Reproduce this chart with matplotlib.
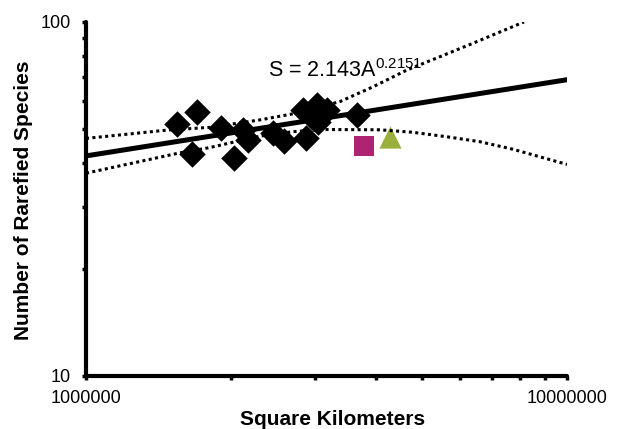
import numpy as np
import matplotlib
matplotlib.use("Agg")
import matplotlib.pyplot as plt

plt.rcParams['font.family'] = ['Liberation Sans', 'DejaVu Sans']
plt.rcParams['mathtext.fontset'] = 'custom'
plt.rcParams['mathtext.rm'] = 'Liberation Sans'
plt.rcParams['mathtext.default'] = 'regular'

# regions (area in km^2) vs rarefied species counts
area = [1.548e6, 1.699e6, 1.659e6, 2.03e6, 1.909e6, 2.124e6, 2.175e6, 2.444e6,
        2.581e6, 2.868e6, 2.83e6, 3.026e6, 3.166e6, 3.041e6, 2.95e6, 3.654e6]
species = [51.4, 55.8, 42.4, 41.4, 50.1, 49.6, 46.4, 48.7,
           46.1, 46.9, 56.4, 58.3, 56.4, 52.3, 54.0, 54.6]

square_area = [3.784e6]
square_species = [44.7]
tri_area = [4.286e6]
tri_species = [47.4]

# fitted power law S = 2.143A^0.2151 (end points)
fit_x = [1e6, 1e7]
fit_y = [41.85, 68.7]

# confidence curves
upper_x = [1.0e6, 1.474e6, 1.810e6, 2.300e6, 2.746e6, 3.374e6, 3.951e6,
           4.650e6, 5.445e6, 6.376e6, 8.138e6]
upper_y = [46.9, 49.5, 50.4, 52.9, 55.3, 59.6, 65.6, 73.2, 79.8, 87.1, 100.0]
lower_x = [1.0e6, 1.568e6, 1.810e6, 2.300e6, 2.694e6, 3.111e6, 4.085e6,
           4.785e6, 5.629e6, 6.593e6, 7.722e6, 1.0e7]
lower_y = [37.4, 42.7, 44.2, 47.6, 49.0, 49.7, 49.6, 48.8, 47.4, 45.9, 43.7, 39.6]

fig = plt.figure(figsize=(6.2, 4.29), dpi=100)
ax = fig.add_axes([86 / 620, 1 - 376 / 429, 481 / 620, 354 / 429])

ax.scatter(area, species, marker='D', s=13.5 ** 2, color='black', zorder=3, linewidths=0)
ax.scatter(square_area, square_species, marker='s', s=14.4 ** 2, color='#AE2473', zorder=3, linewidths=0)
ax.scatter(tri_area, tri_species, marker='^', s=16 ** 2, color='#9AB03E', zorder=3, linewidths=0)

ax.plot(fit_x, fit_y, color='black', lw=3.6, zorder=4)
ax.plot(upper_x, upper_y, color='black', lw=2.2, ls=(0, (1, 1.1)), zorder=4)
ax.plot(lower_x, lower_y, color='black', lw=2.2, ls=(0, (1, 1.1)), zorder=4)

ax.set_xscale('log')
ax.set_yscale('log')
ax.set_xlim(1e6, 1e7)
ax.set_ylim(10, 100)

ax.set_xticks([1e6, 1e7])
ax.set_xticklabels(['1000000', '10000000'])
ax.set_yticks([10, 100])
ax.set_yticklabels(['10', '100'])
ax.xaxis.set_minor_formatter(matplotlib.ticker.NullFormatter())
ax.yaxis.set_minor_formatter(matplotlib.ticker.NullFormatter())

for side in ['top', 'right']:
    ax.spines[side].set_visible(False)
for side in ['left', 'bottom']:
    ax.spines[side].set_linewidth(3)
    ax.spines[side].set_capstyle('round')

ax.tick_params(which='both', direction='out', length=3, width=2.5, labelsize=13)
ax.tick_params(axis='x', which='both', pad=7)
ax.tick_params(axis='y', which='both', pad=8)

ax.set_xlabel('Square Kilometers', fontsize=15, fontweight='bold', va='center')
ax.xaxis.set_label_coords(0.513, -0.1215)
ax.set_ylabel('Number of Rarefied Species', fontsize=15, fontweight='bold', va='center')
ax.yaxis.set_label_coords(-0.129, 0.497)

ax.text(0.378, 0.8455, r'S = 2.143A$^{0.2151}$', transform=ax.transAxes,
        fontsize=15.5, va='baseline', ha='left')

fig.savefig('out.png', dpi=100)
